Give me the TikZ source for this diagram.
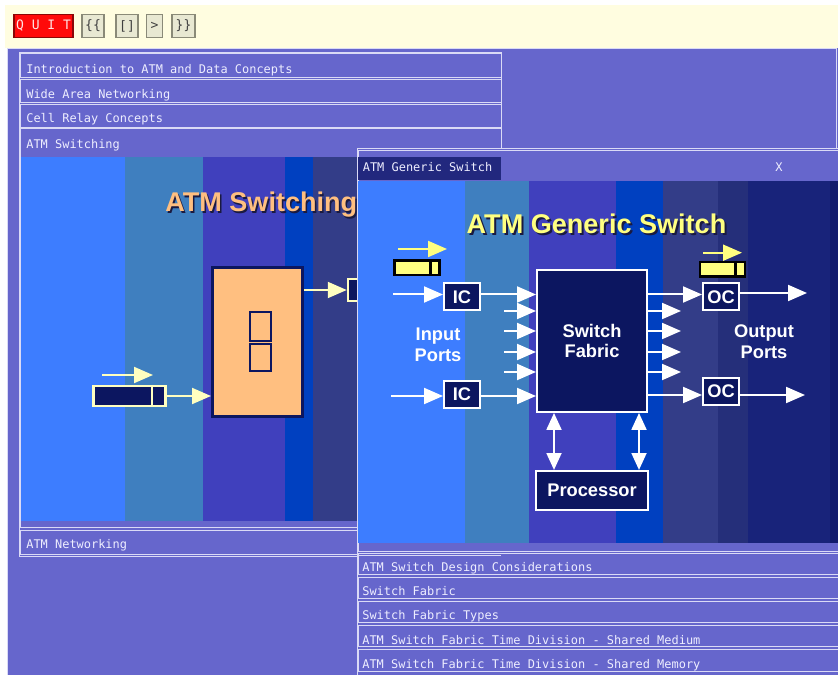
\documentclass[tikz,border=0pt]{standalone}
\usepackage{fontspec}
\setmainfont{Liberation Sans}
\newfontfamily\guifont{DejaVu Sans Mono}
\usetikzlibrary{arrows.meta, positioning, calc}

\newdimen\pixel
\pixel=0.02cm

\definecolor{deskbg}{HTML}{6666CC}
\definecolor{barbg}{HTML}{FFFDE0}
\definecolor{rowline}{HTML}{DADAF6}
\definecolor{guitxt}{HTML}{EEEEFF}
\definecolor{hdrbox}{HTML}{22287E}
\definecolor{btnface}{HTML}{E8E8D2}
\definecolor{btnedge}{HTML}{8A8A78}
\definecolor{quitred}{HTML}{FF0A0A}
\definecolor{stA}{HTML}{3D7DFF}
\definecolor{stB}{HTML}{3F7FBF}
\definecolor{stC}{HTML}{4040BD}
\definecolor{stD}{HTML}{0040C0}
\definecolor{stE}{HTML}{333D88}
\definecolor{stF}{HTML}{252F7A}
\definecolor{stG}{HTML}{18237A}
\definecolor{stH}{HTML}{121B6C}
\definecolor{navyfill}{HTML}{0C1660}
\definecolor{cellyel}{HTML}{FFFF80}
\definecolor{creamarrow}{HTML}{FFFFC0}
\definecolor{peach}{HTML}{FFBF80}
\definecolor{titleshadow}{HTML}{1A1A40}

\tikzset{
  guirow/.style   = {draw=rowline, line width=1\pixel},
  guitext/.style  = {anchor=base west, inner sep=0pt, text=guitxt,
                     font=\guifont\fontsize{6.8}{8}\selectfont},
  navbtn/.style   = {draw=btnedge, fill=btnface, line width=1.5\pixel, inner sep=0pt,
                     minimum height=23\pixel, text=black!75,
                     font=\guifont\fontsize{7.4}{8}\selectfont},
  quitbtn/.style  = {navbtn, fill=quitred, draw=quitred!55!black, text=white!90!red},
  headline/.style = {inner sep=0pt, font=\bfseries\fontsize{15.4}{17}\selectfont},
  port/.style     = {draw=white, fill=navyfill, line width=2\pixel, inner sep=0pt,
                     minimum width=36\pixel, minimum height=27\pixel, text=white,
                     align=center, font=\bfseries\fontsize{10.4}{11.9}\selectfont},
  lbl/.style      = {inner sep=0pt, text=white, align=center,
                     font=\bfseries\fontsize{10.4}{11.9}\selectfont},
  flow/.style     = {line width=2\pixel, -{Triangle[length=10.8pt, width=9.1pt]}},
  twoway/.style   = {white, line width=2\pixel,
                     {Triangle[length=9.6pt, width=8.5pt]}-{Triangle[length=9.6pt, width=8.5pt]}},
  cellbox/.style  = {draw=black, fill=cellyel, line width=2.5\pixel, inner sep=0pt,
                     minimum width=45\pixel, minimum height=14.5\pixel},
  oldcell/.style  = {draw=creamarrow, fill=navyfill, line width=2.5\pixel, inner sep=0pt},
}

\begin{document}
\begin{tikzpicture}[x=0.02cm, y=-0.02cm]
  \useasboundingbox (0,0) rectangle (838,675);
  \fill[white] (0,0) rectangle (838,675);

  % button bar
  \fill[barbg] (5,5) rectangle (838,48);
  \node[quitbtn, minimum width=59\pixel] (quit) at (43.5,26) {Q U I T};
  \node[navbtn, minimum width=22\pixel] (first) at (93,26) {\{\{};
  \node[navbtn, minimum width=22\pixel] (stop) at (127,26) {[]};
  \node[navbtn, minimum width=16\pixel] (next) at (154.5,26) {>};
  \node[navbtn, minimum width=23\pixel] (last) at (183.5,26) {\}\}};

  % desktop
  \fill[deskbg] (7,48) rectangle (838,675);
  \draw[guirow] (7.5,48.5) rectangle (836.5,690);

  % left window, topic rows
  \draw[guirow] (19.5,52.5) rectangle (501,556.5);
  \foreach \ya/\yb/\txt [count=\i] in {54/78/Introduction to ATM and Data Concepts,
      80/103/Wide Area Networking, 104.5/127.5/Cell Relay Concepts} {
    \draw[guirow] (20.5,\ya) rectangle (501,\yb);
    \node[guitext] (lrow\i) at (26,\yb-4.5) {\txt};
  }
  \draw[guirow] (20.5,129) rectangle (501,527);
  \node[guitext] (lsect) at (26,149) {ATM Switching};
  \draw[guirow] (20.5,530) rectangle (501,554);
  \node[guitext] (lnext) at (26,548) {ATM Networking};

  % left slide: ATM Switching
  \foreach \xa/\xb/\col in {21/125/stA, 125/203/stB, 203/285/stC, 285/313/stD, 313/400/stE}
    \fill[\col] (\xa,157) rectangle (\xb,520.5);
  \node[headline, anchor=base west, text=titleshadow] (lheadsh) at (166.5,213.5) {ATM Switching};
  \node[headline, anchor=base west, text=peach] (lhead) at (165,212) {ATM Switching};
  \node[draw=navyfill, fill=peach, line width=3\pixel, inner sep=0pt,
        minimum width=90\pixel, minimum height=148\pixel] (swbox) at (257.5,342) {};
  \draw[navyfill, line width=2\pixel] (249.5,312.5) rectangle (270.5,341)
                                      (249.5,344.5) rectangle (270.5,370.5);
  \node[oldcell, minimum width=28\pixel, minimum height=22\pixel] (rcell) at (362,290) {};
  \draw[flow, creamarrow] (swbox.east |- rcell) -- (rcell);
  \node[oldcell, minimum width=72\pixel, minimum height=20\pixel] (lcell) at (129.7,396) {};
  \draw[creamarrow, line width=2.5\pixel] ([xshift=-15\pixel]lcell.north east)
                                       -- ([xshift=-15\pixel]lcell.south east);
  \coordinate (lmoveA) at (102,375);
  \coordinate (lmoveB) at (153,375);
  \draw[flow, creamarrow] (lmoveA) -- (lmoveB);
  \draw[flow, creamarrow] (lcell) -- (swbox.west |- lcell);

  % right window
  \fill[deskbg] (357,149) rectangle (840,676);
  \draw[guirow] (357,149) rectangle (840,676);
  \draw[guirow] (358.5,151) rectangle (840,551);
  \fill[hdrbox] (358,157) rectangle (501,180);
  \node[guitext] (rhdr) at (362.5,172) {ATM Generic Switch};
  \node[guitext] (rclose) at (775,172) {X};

  % right slide: ATM Generic Switch
  \foreach \xa/\xb/\col in {358/465/stA, 465/529/stB, 529/616/stC, 616/663/stD,
                            663/718/stE, 718/748/stF, 748/830/stG, 830/840/stH}
    \fill[\col] (\xa,181) rectangle (\xb,543);
  \node[headline, anchor=base, text=titleshadow] (rheadsh) at (598.5,236) {ATM Generic Switch};
  \node[headline, anchor=base, text=cellyel] (rhead) at (596.5,234) {ATM Generic Switch};

  % cells
  \node[cellbox] (ycellA) at (417,268) {};
  \draw[black, line width=2.5\pixel] ([xshift=-10.5\pixel]ycellA.north east)
                                   -- ([xshift=-10.5\pixel]ycellA.south east);
  \node[cellbox] (ycellB) at (722.5,269.2) {};
  \draw[black, line width=2.5\pixel] ([xshift=-11\pixel]ycellB.north east)
                                   -- ([xshift=-11\pixel]ycellB.south east);
  \coordinate (ymoveA) at (398,249);
  \coordinate (ymoveB) at (447,249);
  \coordinate (ymoveC) at (703,252.7);
  \coordinate (ymoveD) at (742,252.7);
  \draw[flow, cellyel] (ymoveA) -- (ymoveB);
  \draw[flow, cellyel] (ymoveC) -- (ymoveD);

  % ports, fabric, processor
  \node[port] (icA) at (462,297) {IC};
  \node[port] (icB) at (462,394) {IC};
  \node[port] (ocA) at (721,297) {OC};
  \node[port] (ocB) at (721,391.5) {OC};
  \node[port, minimum width=110\pixel, minimum height=142\pixel] (fab) at (592,341) {Switch\\Fabric};
  \node[port, minimum width=112\pixel, minimum height=39\pixel] (proc) at (592,490.4) {Processor};
  \node[lbl] (inlbl) at (438,345) {Input\\Ports};
  \node[lbl] (outlbl) at (764,342) {Output\\Ports};

  \coordinate (inA) at (393,294.5);
  \coordinate (inB) at (391,396);
  \coordinate (outA) at (807,293);
  \coordinate (outB) at (805,395);
  \draw[flow, white] (inA) -- (icA.west |- inA);
  \draw[flow, white] (icA.east |- inA) -- (fab.west |- inA);
  \draw[flow, white] (inB) -- (icB.west |- inB);
  \draw[flow, white] (icB.east |- inB) -- (fab.west |- inB);
  \draw[flow, white] (fab.east |- inA) -- (ocA.west |- inA);
  \draw[flow, white] (ocA.east |- outA) -- (outA);
  \draw[flow, white] (fab.east |- outB) -- (ocB.west |- outB);
  \draw[flow, white] (ocB.east |- outB) -- (outB);
  \foreach \dy in {-30,-10,11,31} {
    \draw[flow, white] ([shift={(-32,\dy)}]fab.west) -- ([shift={(0,\dy)}]fab.west);
    \draw[flow, white] ([shift={(0,\dy)}]fab.east) -- ([shift={(33,\dy)}]fab.east);
  }
  \draw[twoway] ([xshift=-38\pixel]fab.south) -- ([xshift=-38\pixel]proc.north);
  \draw[twoway] ([xshift=47\pixel]fab.south) -- ([xshift=47\pixel]proc.north);

  % right window, topic rows
  \draw[guirow] (358.5,555) -- (501,555);
  \foreach \ya/\yb/\txt [count=\i] in {553/574/ATM Switch Design Considerations,
      577/598/Switch Fabric, 601/622/Switch Fabric Types,
      625/646.5/ATM Switch Fabric Time Division - Shared Medium,
      649.5/671/ATM Switch Fabric Time Division - Shared Memory} {
    \draw[guirow] (358.5,\ya) rectangle (840,\yb);
    \node[guitext] (rrow\i) at (362,\yb-2.3) {\txt};
  }
\end{tikzpicture}
\end{document}
